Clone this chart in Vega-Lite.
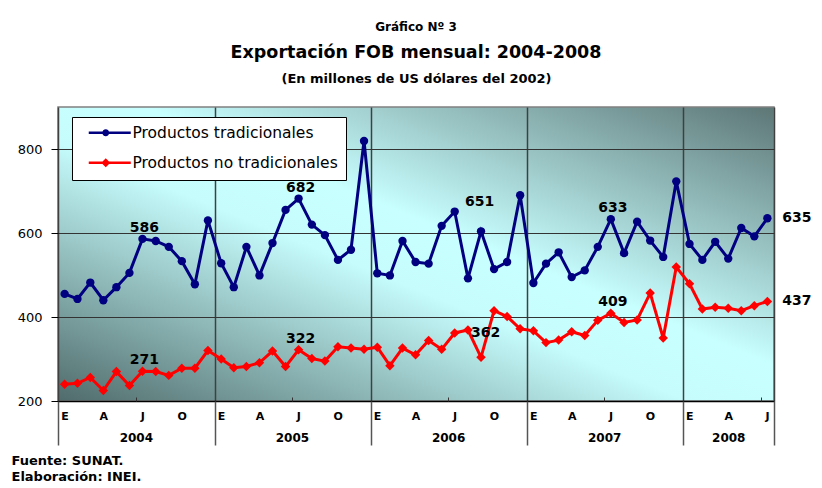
{
  "$schema": "https://vega.github.io/schema/vega-lite/v6.json",
  "width": 716,
  "height": 294,
  "autosize": "none",
  "padding": {"left": 58, "top": 107, "right": 48, "bottom": 87},
  "background": "white",
  "title": {
    "text": "Gráfico Nº 3",
    "subtitle": "Exportación FOB mensual: 2004-2008",
    "anchor": "middle",
    "font": "DejaVu Sans",
    "fontSize": 12,
    "fontWeight": "bold",
    "color": "black",
    "subtitleFont": "DejaVu Sans",
    "subtitleFontSize": 17.5,
    "subtitleFontWeight": "bold",
    "subtitleColor": "black",
    "subtitlePadding": 10,
    "offset": 10
  },
  "data": {
    "values": [
      {"fecha": "2004-01", "Productos tradicionales": 455, "Productos no tradicionales": 240},
      {"fecha": "2004-02", "Productos tradicionales": 443, "Productos no tradicionales": 242},
      {"fecha": "2004-03", "Productos tradicionales": 482, "Productos no tradicionales": 256},
      {"fecha": "2004-04", "Productos tradicionales": 440, "Productos no tradicionales": 225},
      {"fecha": "2004-05", "Productos tradicionales": 471, "Productos no tradicionales": 270},
      {"fecha": "2004-06", "Productos tradicionales": 505, "Productos no tradicionales": 237},
      {"fecha": "2004-07", "Productos tradicionales": 586, "Productos no tradicionales": 271},
      {"fecha": "2004-08", "Productos tradicionales": 581, "Productos no tradicionales": 270},
      {"fecha": "2004-09", "Productos tradicionales": 567, "Productos no tradicionales": 261},
      {"fecha": "2004-10", "Productos tradicionales": 533, "Productos no tradicionales": 278},
      {"fecha": "2004-11", "Productos tradicionales": 478, "Productos no tradicionales": 278},
      {"fecha": "2004-12", "Productos tradicionales": 630, "Productos no tradicionales": 320},
      {"fecha": "2005-01", "Productos tradicionales": 528, "Productos no tradicionales": 300},
      {"fecha": "2005-02", "Productos tradicionales": 471, "Productos no tradicionales": 279},
      {"fecha": "2005-03", "Productos tradicionales": 567, "Productos no tradicionales": 282},
      {"fecha": "2005-04", "Productos tradicionales": 499, "Productos no tradicionales": 291},
      {"fecha": "2005-05", "Productos tradicionales": 576, "Productos no tradicionales": 319},
      {"fecha": "2005-06", "Productos tradicionales": 655, "Productos no tradicionales": 282},
      {"fecha": "2005-07", "Productos tradicionales": 682, "Productos no tradicionales": 322},
      {"fecha": "2005-08", "Productos tradicionales": 620, "Productos no tradicionales": 301},
      {"fecha": "2005-09", "Productos tradicionales": 595, "Productos no tradicionales": 295},
      {"fecha": "2005-10", "Productos tradicionales": 536, "Productos no tradicionales": 329},
      {"fecha": "2005-11", "Productos tradicionales": 560, "Productos no tradicionales": 326},
      {"fecha": "2005-12", "Productos tradicionales": 819, "Productos no tradicionales": 323},
      {"fecha": "2006-01", "Productos tradicionales": 504, "Productos no tradicionales": 328},
      {"fecha": "2006-02", "Productos tradicionales": 499, "Productos no tradicionales": 284},
      {"fecha": "2006-03", "Productos tradicionales": 581, "Productos no tradicionales": 326},
      {"fecha": "2006-04", "Productos tradicionales": 531, "Productos no tradicionales": 310},
      {"fecha": "2006-05", "Productos tradicionales": 527, "Productos no tradicionales": 344},
      {"fecha": "2006-06", "Productos tradicionales": 617, "Productos no tradicionales": 323},
      {"fecha": "2006-07", "Productos tradicionales": 651, "Productos no tradicionales": 362},
      {"fecha": "2006-08", "Productos tradicionales": 492, "Productos no tradicionales": 369},
      {"fecha": "2006-09", "Productos tradicionales": 604, "Productos no tradicionales": 304},
      {"fecha": "2006-10", "Productos tradicionales": 514, "Productos no tradicionales": 415},
      {"fecha": "2006-11", "Productos tradicionales": 531, "Productos no tradicionales": 401},
      {"fecha": "2006-12", "Productos tradicionales": 690, "Productos no tradicionales": 372},
      {"fecha": "2007-01", "Productos tradicionales": 481, "Productos no tradicionales": 367},
      {"fecha": "2007-02", "Productos tradicionales": 527, "Productos no tradicionales": 339},
      {"fecha": "2007-03", "Productos tradicionales": 554, "Productos no tradicionales": 345},
      {"fecha": "2007-04", "Productos tradicionales": 495, "Productos no tradicionales": 365},
      {"fecha": "2007-05", "Productos tradicionales": 511, "Productos no tradicionales": 356},
      {"fecha": "2007-06", "Productos tradicionales": 567, "Productos no tradicionales": 392},
      {"fecha": "2007-07", "Productos tradicionales": 633, "Productos no tradicionales": 409},
      {"fecha": "2007-08", "Productos tradicionales": 552, "Productos no tradicionales": 387},
      {"fecha": "2007-09", "Productos tradicionales": 627, "Productos no tradicionales": 393},
      {"fecha": "2007-10", "Productos tradicionales": 582, "Productos no tradicionales": 457},
      {"fecha": "2007-11", "Productos tradicionales": 543, "Productos no tradicionales": 350},
      {"fecha": "2007-12", "Productos tradicionales": 723, "Productos no tradicionales": 519},
      {"fecha": "2008-01", "Productos tradicionales": 574, "Productos no tradicionales": 479},
      {"fecha": "2008-02", "Productos tradicionales": 536, "Productos no tradicionales": 419},
      {"fecha": "2008-03", "Productos tradicionales": 579, "Productos no tradicionales": 423},
      {"fecha": "2008-04", "Productos tradicionales": 539, "Productos no tradicionales": 421},
      {"fecha": "2008-05", "Productos tradicionales": 612, "Productos no tradicionales": 415},
      {"fecha": "2008-06", "Productos tradicionales": 592, "Productos no tradicionales": 427},
      {"fecha": "2008-07", "Productos tradicionales": 635, "Productos no tradicionales": 437}
    ]
  },
  "transform": [
    {"fold": ["Productos tradicionales", "Productos no tradicionales"], "as": ["serie", "valor"]}
  ],
  "layer": [
    {
      "mark": {"type": "line", "strokeWidth": 3},
      "encoding": {
        "x": {
          "field": "fecha", "type": "temporal", "timeUnit": "utcyearmonth", "bandPosition": 0.5, "title": null,
          "scale": {"domain": [{"year": 2004, "month": 1, "date": 1, "utc": true}, {"year": 2008, "month": 8, "date": 1, "utc": true}]},
          "axis": {
            "orient": "bottom",
            "values": [
              {"year": 2004, "month": 1, "date": 16, "utc": true}, {"year": 2004, "month": 4, "date": 16, "utc": true}, {"year": 2004, "month": 7, "date": 16, "utc": true}, {"year": 2004, "month": 10, "date": 16, "utc": true},
              {"year": 2005, "month": 1, "date": 16, "utc": true}, {"year": 2005, "month": 4, "date": 16, "utc": true}, {"year": 2005, "month": 7, "date": 16, "utc": true}, {"year": 2005, "month": 10, "date": 16, "utc": true},
              {"year": 2006, "month": 1, "date": 16, "utc": true}, {"year": 2006, "month": 4, "date": 16, "utc": true}, {"year": 2006, "month": 7, "date": 16, "utc": true}, {"year": 2006, "month": 10, "date": 16, "utc": true},
              {"year": 2007, "month": 1, "date": 16, "utc": true}, {"year": 2007, "month": 4, "date": 16, "utc": true}, {"year": 2007, "month": 7, "date": 16, "utc": true}, {"year": 2007, "month": 10, "date": 16, "utc": true},
              {"year": 2008, "month": 1, "date": 16, "utc": true}, {"year": 2008, "month": 4, "date": 16, "utc": true}, {"year": 2008, "month": 7, "date": 16, "utc": true}
            ],
            "labelExpr": "['E','','','A','','','J','','','O','',''][utcmonth(datum.value)]",
            "ticks": false, "grid": false, "domain": true, "domainColor": "black", "domainWidth": 1.5,
            "labelPadding": 15, "labelBaseline": "middle", "labelFont": "DejaVu Sans", "labelFontWeight": "bold", "labelFontSize": 11,
            "labelColor": "black", "labelAngle": 0, "labelOverlap": false, "labelFlush": false, "title": null
          }
        },
        "y": {
          "field": "valor", "type": "quantitative", "title": null,
          "scale": {"domain": [200, 900], "nice": false, "zero": false},
          "axis": {"values": [200, 400, 600, 800], "grid": true, "gridColor": "#333333", "gridWidth": 1, "domain": false, "tickSize": 7, "tickColor": "black", "labelPadding": 9, "labelFont": "DejaVu Sans", "labelFontSize": 13, "labelColor": "black"}
        },
        "color": {
          "field": "serie", "type": "nominal",
          "scale": {"domain": ["Productos tradicionales", "Productos no tradicionales"], "range": ["#000080", "#ff0000"]},
          "legend": {
            "orient": "none", "legendX": 14, "legendY": 10, "title": null,
            "fillColor": "white", "strokeColor": "black", "padding": 8,
            "symbolOffset": 6, "labelOffset": 31, "rowPadding": 13, "labelLimit": 400,
            "labelFont": "DejaVu Sans", "labelFontSize": 15.5, "labelColor": "black",
            "symbolSize": 100, "symbolStrokeWidth": 0,
            "encode": {
              "symbols": {
                "update": {
                  "shape": {"signal": "datum.value === 'Productos tradicionales' ? 'M-1,-0.26H7.4V0.26H-1Z M3.1,0A0.7,0.7,0,1,1,1.7,0A0.7,0.7,0,1,1,3.1,0Z' : 'M-1,-0.26H7.4V0.26H-1Z M2.4,-0.9L3.3,0L2.4,0.9L1.5,0Z'"},
                  "fill": {"signal": "datum.value === 'Productos tradicionales' ? '#000080' : '#ff0000'"},
                  "stroke": {"value": "transparent"},
                  "strokeWidth": {"value": 0},
                  "opacity": {"value": 1},
                  "size": {"value": 100}
                }
              }
            }
          }
        }
      }
    },
    {
      "transform": [{"filter": "datum.serie === 'Productos tradicionales'"}],
      "mark": {"type": "point", "shape": "circle", "filled": true, "opacity": 1, "size": 70},
      "encoding": {
        "x": {
          "field": "fecha", "type": "temporal", "timeUnit": "utcyearmonth", "bandPosition": 0.5, "title": null,
          "axis": {
            "orient": "bottom",
            "values": [
              {"year": 2004, "month": 7, "date": 1, "utc": true}, {"year": 2005, "month": 7, "date": 1, "utc": true},
              {"year": 2006, "month": 7, "date": 1, "utc": true}, {"year": 2007, "month": 7, "date": 1, "utc": true},
              {"year": 2008, "month": 4, "date": 16, "utc": true}
            ],
            "labelExpr": "'' + utcyear(datum.value)",
            "ticks": false, "grid": false, "domain": false,
            "labelPadding": 36, "labelBaseline": "middle", "labelFont": "DejaVu Sans", "labelFontWeight": "bold", "labelFontSize": 12,
            "labelColor": "black", "labelAngle": 0, "labelOverlap": false, "labelFlush": false, "title": null
          }
        },
        "y": {"field": "valor", "type": "quantitative", "title": null},
        "color": {"field": "serie", "type": "nominal"}
      }
    },
    {
      "transform": [{"filter": "datum.serie === 'Productos no tradicionales'"}],
      "mark": {"type": "point", "shape": "diamond", "filled": true, "opacity": 1, "size": 90},
      "encoding": {
        "x": {"field": "fecha", "type": "temporal", "timeUnit": "utcyearmonth", "bandPosition": 0.5, "title": null, "axis": null},
        "y": {"field": "valor", "type": "quantitative", "title": null},
        "color": {"field": "serie", "type": "nominal"}
      }
    },
    {
      "transform": [{"filter": "utcmonth(datum.fecha) === 6 && (utcyear(datum.fecha) === 2004 || utcyear(datum.fecha) === 2005 || utcyear(datum.fecha) === 2007)"}],
      "mark": {"type": "text", "font": "DejaVu Sans", "fontWeight": "bold", "fontSize": 14, "color": "black", "baseline": "middle", "align": "center", "dx": 2, "dy": -11},
      "encoding": {
        "x": {
          "field": "fecha", "type": "temporal", "timeUnit": "utcyearmonth", "bandPosition": 0.5, "title": null,
          "axis": {
            "orient": "bottom",
            "values": [
              {"year": 2004, "month": 1, "date": 1, "utc": true}, {"year": 2005, "month": 1, "date": 1, "utc": true},
              {"year": 2006, "month": 1, "date": 1, "utc": true}, {"year": 2007, "month": 1, "date": 1, "utc": true},
              {"year": 2008, "month": 1, "date": 1, "utc": true}, {"year": 2008, "month": 8, "date": 1, "utc": true}
            ],
            "labels": false, "ticks": true, "tickSize": 44, "tickColor": "#555555", "tickWidth": 1.5,
            "grid": true, "gridColor": "#404040", "gridWidth": 1.5, "domain": false,
            "title": ["Fuente: SUNAT.", "Elaboración: INEI."],
            "titleX": -47, "titleY": 63, "titleAlign": "left", "titleAnchor": "start", "titleBaseline": "alphabetic",
            "titleLineHeight": 16, "titleFont": "DejaVu Sans", "titleFontSize": 13, "titleFontWeight": "bold", "titleColor": "black"
          }
        },
        "y": {"field": "valor", "type": "quantitative", "title": null},
        "text": {"field": "valor", "type": "quantitative", "format": "d"}
      }
    },
    {
      "transform": [{"filter": "utcmonth(datum.fecha) === 6 && utcyear(datum.fecha) === 2006 && datum.serie === 'Productos tradicionales'"}],
      "mark": {"type": "text", "font": "DejaVu Sans", "fontWeight": "bold", "fontSize": 14, "color": "black", "baseline": "middle", "align": "center", "dx": 25, "dy": -10},
      "encoding": {
        "x": {
          "field": "fecha", "type": "temporal", "timeUnit": "utcyearmonth", "bandPosition": 0.5, "title": null,
          "axis": {
            "orient": "top", "values": [], "labels": false, "ticks": false, "grid": false, "domain": false,
            "title": "(En millones de US dólares del 2002)", "titlePadding": 22,
            "titleFont": "DejaVu Sans", "titleFontSize": 13, "titleFontWeight": "bold", "titleColor": "black"
          }
        },
        "y": {"field": "valor", "type": "quantitative", "title": null},
        "text": {"field": "valor", "type": "quantitative", "format": "d"}
      }
    },
    {
      "transform": [{"filter": "utcmonth(datum.fecha) === 6 && utcyear(datum.fecha) === 2006 && datum.serie === 'Productos no tradicionales'"}],
      "mark": {"type": "text", "font": "DejaVu Sans", "fontWeight": "bold", "fontSize": 14, "color": "black", "baseline": "middle", "align": "center", "dx": 31, "dy": 0},
      "encoding": {
        "x": {
          "field": "fecha", "type": "temporal", "timeUnit": "utcyearmonth", "bandPosition": 0.5, "title": null,
          "axis": {
            "orient": "bottom",
            "values": [
              {"year": 2004, "month": 7, "date": 1, "utc": true}, {"year": 2005, "month": 7, "date": 1, "utc": true},
              {"year": 2006, "month": 7, "date": 1, "utc": true}, {"year": 2007, "month": 7, "date": 1, "utc": true},
              {"year": 2008, "month": 7, "date": 1, "utc": true}
            ],
            "labels": false, "ticks": true, "tickSize": -4, "tickColor": "#333333", "grid": false, "domain": false, "title": null
          }
        },
        "y": {"field": "valor", "type": "quantitative", "title": null},
        "text": {"field": "valor", "type": "quantitative", "format": "d"}
      }
    },
    {
      "transform": [{"filter": "utcmonth(datum.fecha) === 6 && utcyear(datum.fecha) === 2008"}],
      "mark": {"type": "text", "font": "DejaVu Sans", "fontWeight": "bold", "fontSize": 14, "color": "black", "baseline": "middle", "align": "left", "dx": 15, "dy": 0},
      "encoding": {
        "x": {"field": "fecha", "type": "temporal", "timeUnit": "utcyearmonth", "bandPosition": 0.5, "title": null, "axis": null},
        "y": {"field": "valor", "type": "quantitative", "title": null},
        "text": {"field": "valor", "type": "quantitative", "format": "d"}
      }
    }
  ],
  "resolve": {"axis": {"x": "independent"}},
  "config": {
    "view": {
      "stroke": "#808080",
      "strokeWidth": 1.5,
      "fill": {
        "gradient": "linear", "x1": 0, "y1": 1, "x2": 1, "y2": 0,
        "stops": [
          {"offset": 0, "color": "#506b6b"},
          {"offset": 0.44, "color": "#c6fcfc"},
          {"offset": 0.56, "color": "#c8ffff"},
          {"offset": 1, "color": "#5d7676"}
        ]
      }
    }
  }
}
